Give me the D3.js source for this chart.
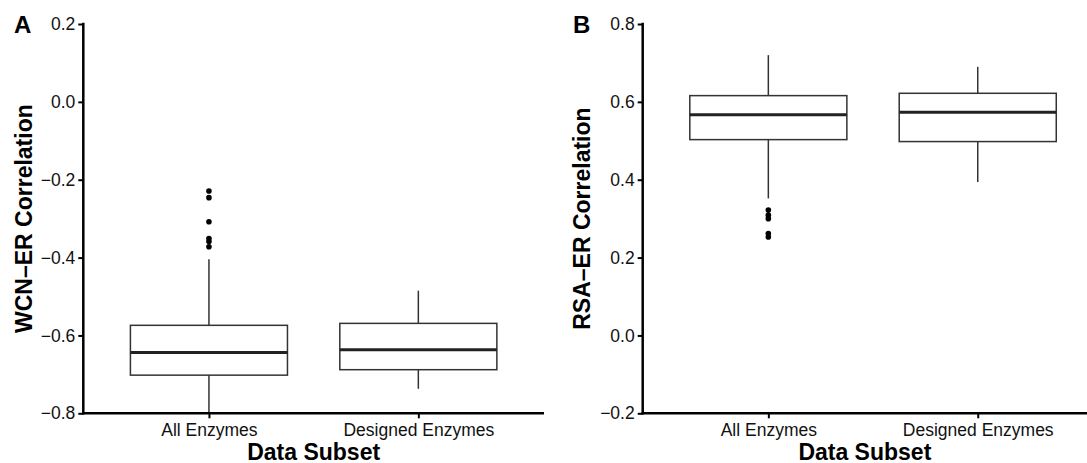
<!DOCTYPE html>
<html>
<head>
<meta charset="utf-8">
<script src="https://cdn.jsdelivr.net/npm/d3@7"></script>
<style>
  body { margin: 0; background: #fff; }
  svg { display: block; font-family: "Liberation Sans", Arial, Helvetica, sans-serif; }
</style>
</head>
<body>
<div id="chart"></div>
<script>
// Categories on the x axis (shared by both panels)
const categories = ["All Enzymes", "Designed Enzymes"]

// Panel A: WCN-ER correlation box stats
const wcnLow = [-0.800, -0.737]
const wcnQ1 = [-0.702, -0.688]
const wcnMedian = [-0.644, -0.637]
const wcnQ3 = [-0.574, -0.569]
const wcnHigh = [-0.404, -0.485]
const wcnOutliers = [[-0.229, -0.246, -0.308, -0.351, -0.359, -0.372], []]
const wcnTicks = [0.2, 0.0, -0.2, -0.4, -0.6, -0.8]

// Panel B: RSA-ER correlation box stats
const rsaLow = [0.352, 0.394]
const rsaQ1 = [0.503, 0.498]
const rsaMedian = [0.567, 0.573]
const rsaQ3 = [0.616, 0.622]
const rsaHigh = [0.720, 0.690]
const rsaOutliers = [[0.322, 0.309, 0.300, 0.262, 0.253], []]
const rsaTicks = [0.8, 0.6, 0.4, 0.2, 0.0, -0.2]

const W = 1087, H = 463

const svg = d3.select("#chart").append("svg")
  .attr("width", W)
  .attr("height", H)

function boxRows(low, q1, med, q3, high, outl) {
  return categories.map((c, i) => ({
    cat: c, low: low[i], q1: q1[i], med: med[i], q3: q3[i], high: high[i], out: outl[i]
  }))
}

function drawPanel(opt) {
  const g = svg.append("g")

  const y = d3.scaleLinear()
    .domain([opt.ticks[opt.ticks.length - 1], opt.ticks[0]])
    .range([413.3, 24])

  const x = d3.scalePoint()
    .domain(categories)
    .range([opt.x0, opt.x0 + 2.2 * 209.4])
    .padding(0.6)

  const bw = x.step() * 0.75
  const rows = opt.rows

  // whiskers
  g.selectAll(".whisk-hi")
    .data(rows).enter().append("line")
    .attr("x1", d => x(d.cat)).attr("x2", d => x(d.cat))
    .attr("y1", d => y(d.q3)).attr("y2", d => y(d.high))
    .style("stroke", "#333").style("stroke-width", 1.5)

  g.selectAll(".whisk-lo")
    .data(rows).enter().append("line")
    .attr("x1", d => x(d.cat)).attr("x2", d => x(d.cat))
    .attr("y1", d => y(d.q1)).attr("y2", d => y(d.low))
    .style("stroke", "#333").style("stroke-width", 1.5)

  // boxes
  g.selectAll(".box")
    .data(rows).enter().append("rect")
    .attr("x", d => x(d.cat) - bw / 2)
    .attr("width", bw)
    .attr("y", d => y(d.q3))
    .attr("height", d => y(d.q1) - y(d.q3))
    .attr("fill", "#fff")
    .style("stroke", "#333").style("stroke-width", 1.5)

  // medians
  g.selectAll(".median")
    .data(rows).enter().append("line")
    .attr("x1", d => x(d.cat) - bw / 2).attr("x2", d => x(d.cat) + bw / 2)
    .attr("y1", d => y(d.med)).attr("y2", d => y(d.med))
    .style("stroke", "#222").style("stroke-width", 3)

  // outliers
  rows.forEach(d => {
    g.selectAll(null)
      .data(d.out).enter().append("circle")
      .attr("cx", x(d.cat))
      .attr("cy", v => y(v))
      .attr("r", 2.8)
      .attr("fill", "#000")
  })

  // axes
  const yAxis = d3.axisLeft(y)
    .tickValues(opt.ticks)
    .tickFormat(d3.format(".1f"))
    .tickSize(5)
    .tickPadding(3)

  const xAxis = d3.axisBottom(x)
    .tickSize(5)
    .tickPadding(5)

  g.append("g")
    .attr("transform", "translate(" + opt.x0 + ",0)")
    .call(yAxis)
    .call(a => a.select(".domain").remove())
    .call(a => a.selectAll("line").style("stroke", "#000").style("stroke-width", 2))
    .call(a => a.selectAll("text").style("font-size", "17.5px").style("fill", "#111"))

  g.append("g")
    .attr("transform", "translate(0,413.3)")
    .call(xAxis)
    .call(a => a.select(".domain").remove())
    .call(a => a.selectAll("line").style("stroke", "#000").style("stroke-width", 2))
    .call(a => a.selectAll("text").style("font-size", "17.5px").style("fill", "#111"))

  // axis lines
  g.append("line")
    .attr("x1", opt.x0).attr("x2", opt.x0)
    .attr("y1", 22.8).attr("y2", 414.5)
    .style("stroke", "#000").style("stroke-width", 2.5)

  g.append("line")
    .attr("x1", opt.x0 - 1.2).attr("x2", opt.xEnd)
    .attr("y1", 413.3).attr("y2", 413.3)
    .style("stroke", "#000").style("stroke-width", 2.5)

  // titles
  g.append("text")
    .attr("x", (opt.x0 + opt.xEnd) / 2)
    .attr("y", 459.5)
    .attr("text-anchor", "middle")
    .style("font-size", "23px").style("font-weight", "bold")
    .text("Data Subset")

  g.append("text")
    .attr("transform", "translate(" + opt.yTitleX + "," + 218.6 + ") rotate(-90)")
    .attr("text-anchor", "middle")
    .style("font-size", "23px").style("font-weight", "bold")
    .text(opt.yTitle)

  g.append("text")
    .attr("x", opt.labelX)
    .attr("y", 33)
    .style("font-size", "24px").style("font-weight", "bold")
    .text(opt.label)
}

drawPanel({
  x0: 83.3, xEnd: 544,
  ticks: wcnTicks,
  rows: boxRows(wcnLow, wcnQ1, wcnMedian, wcnQ3, wcnHigh, wcnOutliers),
  yTitle: "WCN\u2013ER Correlation", yTitleX: 31.5,
  label: "A", labelX: 14
})

drawPanel({
  x0: 642.7, xEnd: 1087,
  ticks: rsaTicks,
  rows: boxRows(rsaLow, rsaQ1, rsaMedian, rsaQ3, rsaHigh, rsaOutliers),
  yTitle: "RSA\u2013ER Correlation", yTitleX: 589.5,
  label: "B", labelX: 573
})
</script>
</body>
</html>
